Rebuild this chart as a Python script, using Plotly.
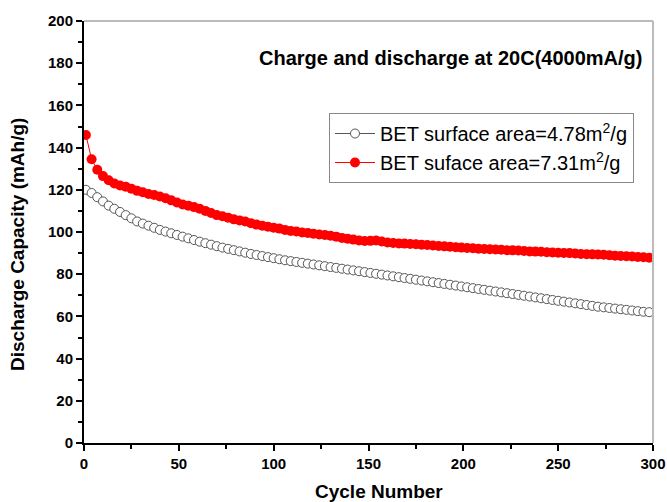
import plotly.graph_objects as go

cycles = list(range(1, 300, 3))

cap_478 = [120, 118.5, 116.5, 114.5, 112.5, 111, 109.5, 108, 106.5, 105,
           104, 103, 102, 101, 100.2, 99.4, 98.6, 97.8, 97, 96.2,
           95.4, 94.7, 94, 93.3, 92.6, 92, 91.4, 90.8, 90.2, 89.6,
           89.1, 88.6, 88.1, 87.6, 87.1, 86.6, 86.2, 85.8, 85.4, 85,
           84.6, 84.2, 83.8, 83.4, 83, 82.6, 82.2, 81.8, 81.4, 81,
           80.6, 80.2, 79.8, 79.4, 79, 78.6, 78.2, 77.8, 77.4, 77,
           76.6, 76.2, 75.8, 75.4, 75, 74.6, 74.2, 73.8, 73.4, 73,
           72.6, 72.2, 71.8, 71.4, 71, 70.6, 70.2, 69.8, 69.4, 69,
           68.6, 68.2, 67.8, 67.4, 67, 66.6, 66.2, 65.8, 65.4, 65,
           64.6, 64.3, 64, 63.7, 63.4, 63.1, 62.8, 62.5, 62.2, 62]

cap_731 = [146, 134.5, 129.5, 126.5, 124.5, 123, 122, 121.5, 120.5, 119.5,
           118.8, 118, 117.5, 116.8, 116, 115, 114, 113, 112.5, 111.8,
           111, 110, 109, 108, 107.5, 106.8, 106, 105.5, 105, 104.2,
           103.5, 103, 102.5, 102, 101.6, 101, 100.5, 100.2, 99.8, 99.5,
           99.2, 98.8, 98.6, 98.2, 97.8, 97.2, 96.8, 96.4, 96, 95.7,
           95.8, 96, 95.5, 95, 94.8, 94.6, 94.5, 94.3, 94.2, 94,
           93.8, 93.6, 93.4, 93.2, 93, 92.8, 92.6, 92.4, 92.3, 92.1,
           92, 91.8, 91.7, 91.6, 91.4, 91.3, 91.2, 91, 90.8, 90.7,
           90.6, 90.4, 90.3, 90.2, 90.1, 90, 89.8, 89.6, 89.5, 89.4,
           89.3, 89.2, 89, 88.8, 88.6, 88.5, 88.4, 88.2, 88, 87.8]

x_ticks = [0, 50, 100, 150, 200, 250, 300]
y_ticks = [0, 20, 40, 60, 80, 100, 120, 140, 160, 180, 200]

FONT = "Liberation Sans, Arial, sans-serif"
W, H = 667, 502
ML, MR, MT, MB = 84, 14, 21, 59
PW, PH = W - ML - MR, H - MT - MB

fig = go.Figure()
fig.add_trace(go.Scatter(
    x=cycles, y=cap_478, mode="lines+markers",
    name="BET surface area=4.78m<sup>2</sup>/g",
    line=dict(color="#555555", width=1),
    marker=dict(symbol="circle", size=9, color="white",
                line=dict(color="#555555", width=1)),
))
fig.add_trace(go.Scatter(
    x=cycles, y=cap_731, mode="lines+markers",
    name="BET suface area=7.31m<sup>2</sup>/g",
    line=dict(color="#ff0000", width=1),
    marker=dict(symbol="circle", size=10, color="#ff0000",
                line=dict(color="#ff0000", width=0)),
))

axis_common = dict(showgrid=False, zeroline=False, showline=True, linecolor="black",
                   linewidth=2, ticks="outside", ticklen=6, tickwidth=2, tickcolor="black",
                   tickfont=dict(size=15, family=FONT, weight="bold", color="black"),
                   automargin=False)

fig.update_layout(
    width=W, height=H,
    margin=dict(l=ML, r=MR, t=MT, b=MB, autoexpand=False),
    paper_bgcolor="white", plot_bgcolor="white",
    font=dict(family=FONT, color="black"),
    showlegend=True,
    legend=dict(x=(329 - ML) / PW, y=(H - MB - 113) / PH, xanchor="left", yanchor="top",
                bordercolor="#888888", borderwidth=1, bgcolor="white",
                font=dict(size=20, family=FONT), tracegroupgap=0,
                itemwidth=40),
    xaxis=dict(range=[0, 300], tickvals=x_ticks, ticktext=[str(v) for v in x_ticks],
               minor=dict(dtick=25, ticklen=4, tickwidth=1.5, tickcolor="black", ticks="outside"),
               **axis_common),
    yaxis=dict(range=[0, 200], tickvals=y_ticks, ticktext=[str(v) for v in y_ticks],
               minor=dict(dtick=10, ticklen=4, tickwidth=1.5, tickcolor="black", ticks="outside"),
               **axis_common),
    shapes=[
        dict(type="line", xref="paper", yref="paper", x0=0, x1=1, y0=1, y1=1,
             line=dict(color="#bbbbbb", width=2)),
        dict(type="line", xref="paper", yref="paper", x0=1, x1=1, y0=0, y1=1,
             line=dict(color="#bbbbbb", width=2)),
    ],
    annotations=[
        dict(text="<b>Charge and discharge at 20C(4000mA/g)</b>", xref="paper", yref="paper",
             x=(450 - ML) / PW, y=(H - MB - 58) / PH, xanchor="center", yanchor="middle",
             showarrow=False, font=dict(size=20, family=FONT, color="black")),
        dict(text="<b>Cycle Number</b>", xref="paper", yref="paper",
             x=(379 - ML) / PW, y=(H - MB - 492) / PH, xanchor="center", yanchor="middle",
             showarrow=False, font=dict(size=19, family=FONT, color="black")),
        dict(text="<b>Discharge Capacity (mAh/g)</b>", xref="paper", yref="paper",
             x=(18 - ML) / PW, y=(H - MB - 245) / PH, xanchor="center", yanchor="middle",
             textangle=-90, showarrow=False, font=dict(size=19, family=FONT, color="black")),
    ],
)

fig.write_html("out.html")
